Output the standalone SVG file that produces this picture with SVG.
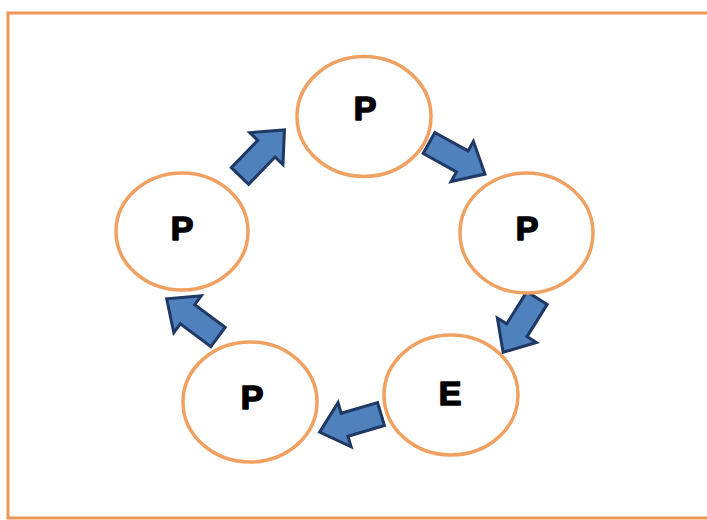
<svg xmlns="http://www.w3.org/2000/svg" width="707" height="520" viewBox="0 0 707 520">
  <style>
    .frame { fill: #ffffff; stroke: #EE9655; stroke-width: 3; }
    .ring { fill: #ffffff; stroke: #F0A060; stroke-width: 3.5; }
    .lbl { font-family: "Liberation Sans", Arial, sans-serif; font-weight: bold; font-size: 34px; fill: #000000; stroke: #000000; stroke-width: 1.6; stroke-linejoin: round; text-anchor: middle; }
    .arrow { fill: #4F81BD; stroke: #1F3864; stroke-width: 3; stroke-linejoin: miter; }
  </style>
  <defs>
    <!-- block arrow pointing along +x, tail at origin -->
    <path id="blockArrow" d="M0,-12 L38,-12 L38,-23 L64,0 L38,23 L38,12 L0,12 Z"/>
  </defs>

  <rect class="frame" x="8" y="13" width="710" height="505"/>

  <g id="connectors">
    <use href="#blockArrow" class="arrow" transform="translate(240,176) rotate(-46)"/>
    <use href="#blockArrow" class="arrow" transform="translate(429,143) rotate(29)"/>
    <use href="#blockArrow" class="arrow" transform="translate(537,298) rotate(122)"/>
    <use href="#blockArrow" class="arrow" transform="translate(381,414) rotate(163.5)"/>
    <use href="#blockArrow" class="arrow" transform="translate(218,337) rotate(216.7)"/>
  </g>

  <g id="node-top">
    <ellipse class="ring" cx="364" cy="116.5" rx="67" ry="60"/>
    <text class="lbl" x="365" y="120">P</text>
  </g>
  <g id="node-right">
    <ellipse class="ring" cx="526.5" cy="233" rx="66.5" ry="60"/>
    <text class="lbl" x="527" y="240">P</text>
  </g>
  <g id="node-bottom-right">
    <ellipse class="ring" cx="451" cy="395" rx="67" ry="60"/>
    <text class="lbl" x="450" y="405">E</text>
  </g>
  <g id="node-bottom-left">
    <ellipse class="ring" cx="250" cy="402" rx="67" ry="60"/>
    <text class="lbl" x="252" y="409">P</text>
  </g>
  <g id="node-left">
    <ellipse class="ring" cx="182" cy="231.5" rx="66" ry="58.5"/>
    <text class="lbl" x="182" y="240">P</text>
  </g>
</svg>
